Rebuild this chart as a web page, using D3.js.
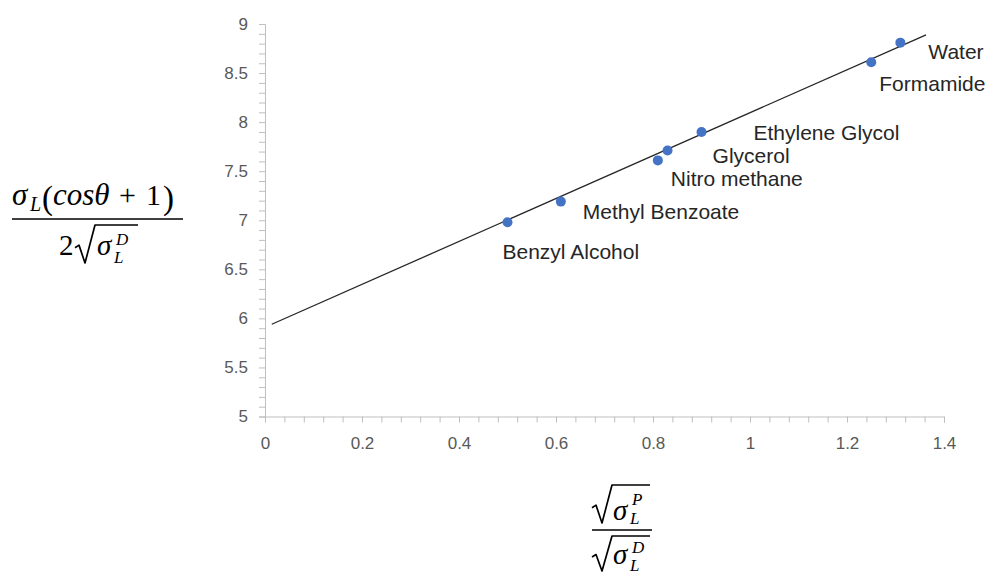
<!DOCTYPE html>
<head>
  <meta charset="utf-8">
  <script src="https://d3js.org/d3.v7.min.js"></script>
  <style>
    body { margin:0; background:#fff; }
    svg { display:block; }
    .tick text { font-family:"Liberation Sans", Arial, sans-serif; font-size:17px; fill:#595959; }
    .domain, .tick line { stroke:#bfbfbf; stroke-width:1; }
    .label { font-family:"Liberation Sans", Arial, sans-serif; font-size:21px; fill:#262626; }
    .math { font-family:"Liberation Serif", "DejaVu Serif", serif; fill:#000; }
    .it { font-style:italic; }
  </style>
</head>
<body>
<script>
// solvents, x = sqrt(sP)/sqrt(sD), y = sL(cos+1)/(2 sqrt(sD))
var solvents = ["Benzyl Alcohol", "Methyl Benzoate", "Nitro methane", "Glycerol", "Ethylene Glycol", "Formamide", "Water"];
var ratioX = [0.50, 0.61, 0.81, 0.83, 0.90, 1.25, 1.31];
var workY  = [6.98, 7.19, 7.61, 7.71, 7.90, 8.61, 8.81];

// linear trendline end points
var trendX = [0.014, 1.363];
var trendY = [5.94, 8.89];

var xMajor = [0, 0.2, 0.4, 0.6, 0.8, 1, 1.2, 1.4];
var yMajor = [5, 5.5, 6, 6.5, 7, 7.5, 8, 8.5, 9];

// label placement relative to each point (px)
var labelDx = [-5, 22, 13, 45, 52, 8, 28];
var labelDy = [37, 17, 26, 12, 8, 29, 16];

var width = 994, height = 574;
var svg = d3.select("body").append("svg")
  .attr("width", width).attr("height", height);

var x = d3.scaleLinear().domain([0, 1.4]).range([265, 944]);
var y = d3.scaleLinear().domain([5, 9]).range([416.5, 24]);

function isMajor(v, list) {
  return list.some(function(m) { return Math.abs(v - m) < 1e-6; });
}

// minor ticks: 5 per major step
var xMinor = d3.range(0, 36).map(function(i) { return i * 0.04; });
var yMinor = d3.range(0, 41).map(function(i) { return 5 + i * 0.1; });

svg.append("g")
  .attr("transform", "translate(0," + y(5) + ")")
  .call(d3.axisBottom(x).tickValues(xMinor).tickSize(6).tickPadding(14)
    .tickFormat(function(d) { return isMajor(d, xMajor) ? d3.format("~g")(+d.toFixed(2)) : ""; }));

svg.append("g")
  .attr("transform", "translate(" + x(0) + ",0)")
  .call(d3.axisLeft(y).tickValues(yMinor).tickSize(6).tickPadding(11)
    .tickFormat(function(d) { return isMajor(d, yMajor) ? d3.format("~g")(+d.toFixed(2)) : ""; }));

// trendline
svg.append("line")
  .attr("x1", x(trendX[0])).attr("y1", y(trendY[0]))
  .attr("x2", x(trendX[1])).attr("y2", y(trendY[1]))
  .attr("stroke", "#262626").attr("stroke-width", 1.3);

svg.selectAll("circle.pt")
  .data(solvents)
  .enter().append("circle")
  .attr("class", "pt")
  .attr("cx", function(d, i) { return x(ratioX[i]); })
  .attr("cy", function(d, i) { return y(workY[i]); })
  .attr("r", 5)
  .attr("fill", "#4472c4");

svg.selectAll("text.label")
  .data(solvents)
  .enter().append("text")
  .attr("class", "label")
  .attr("x", function(d, i) { return x(ratioX[i]) + labelDx[i]; })
  .attr("y", function(d, i) { return y(workY[i]) + labelDy[i]; })
  .text(function(d) { return d; });

// ---- math axis titles ----
function radical(g, x0, top, bottom, x1) {
  var h = bottom - top;
  g.append("path")
    .attr("d", "M" + x0 + "," + (bottom - h * 0.4) +
      " L" + (x0 + 4) + "," + (bottom - h * 0.47) +
      " L" + (x0 + 10) + "," + bottom +
      " L" + (x0 + 20) + "," + top +
      " L" + x1 + "," + top)
    .attr("fill", "none").attr("stroke", "#000").attr("stroke-width", 1.7)
    .attr("stroke-linejoin", "round");
}

function mtext(g, xs, ys, size, str, italic) {
  return g.append("text").attr("class", "math" + (italic ? " it" : ""))
    .attr("x", xs).attr("y", ys).style("font-size", size + "px").text(str);
}

function rule(g, x0, x1, yy) {
  g.append("line").attr("x1", x0).attr("x2", x1).attr("y1", yy).attr("y2", yy)
    .attr("stroke", "#000").attr("stroke-width", 1.7);
}

// y title
var yt = svg.append("g");
mtext(yt, 12, 205, 31, "σ", true);
mtext(yt, 30, 211, 20, "L", true);
mtext(yt, 42, 209, 33, "(", false);
mtext(yt, 53, 205, 31, "cosθ", true);
mtext(yt, 119, 205, 30, "+", false);
mtext(yt, 146, 205, 30, "1", false);
mtext(yt, 163, 209, 33, ")", false);
rule(yt, 12, 183, 219);
mtext(yt, 59, 255, 29, "2", false);
radical(yt, 75, 225, 263, 138);
mtext(yt, 97, 255, 29, "σ", true);
mtext(yt, 116, 245, 17, "D", true);
mtext(yt, 114, 263, 17, "L", true);

// x title
var xt = svg.append("g");
radical(xt, 592, 485, 523, 650);
mtext(xt, 613, 520, 29, "σ", true);
mtext(xt, 632, 505, 17, "P", true);
mtext(xt, 630, 524, 17, "L", true);
rule(xt, 592, 652, 530);
radical(xt, 592, 536, 571, 650);
mtext(xt, 613, 564, 29, "σ", true);
mtext(xt, 632, 553, 17, "D", true);
mtext(xt, 630, 571, 17, "L", true);
</script>
</body>
